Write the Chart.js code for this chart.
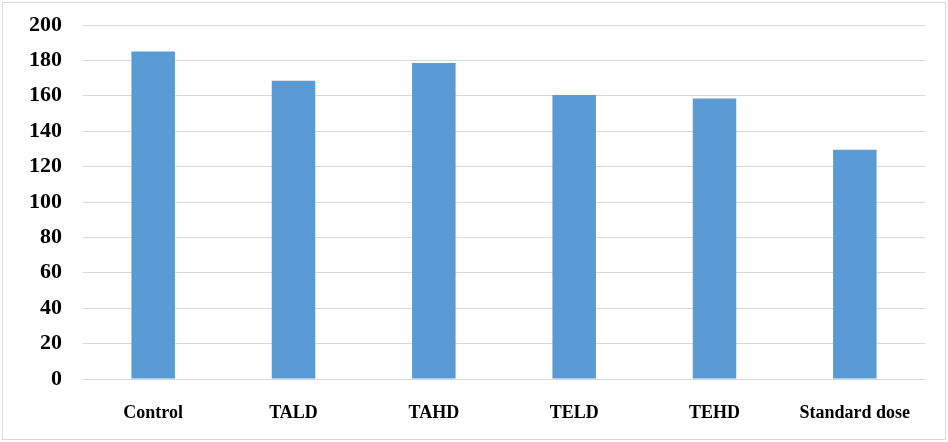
<!DOCTYPE html>
<html>
<head>
<meta charset="utf-8">
<script src="https://cdn.jsdelivr.net/npm/chart.js@4.4.0/dist/chart.umd.min.js"></script>
<style>
    body { margin: 0; background: #fff; }
    #wrap { position: relative; width: 948px; height: 442px; }
    #frame {
        position: absolute; left: 2px; top: 2px; width: 942px; height: 436px;
        border: 1px solid #d9d9d9; pointer-events: none;
    }
</style>
</head>
<body>
<div id="wrap">
    <canvas id="barChart" width="948" height="442"></canvas>
    <div id="frame"></div>
</div>
<script>
const groups = ["Control", "TALD", "TAHD", "TELD", "TEHD", "Standard dose"];
const values = [185, 168.5, 178.5, 160.5, 158.5, 129.5];
const yTicks = [0, 20, 40, 60, 80, 100, 120, 140, 160, 180, 200];

const barColor = "#5B9BD5";
const gridColor = "#d9d9d9";
const serif = "'Liberation Serif', 'Times New Roman', serif";

new Chart(document.getElementById("barChart"), {
    type: "bar",
    data: {
        labels: groups,
        datasets: [{
            data: values,
            backgroundColor: barColor,
            borderWidth: 0,
            categoryPercentage: 1,
            barPercentage: 0.31
        }]
    },
    options: {
        responsive: false,
        animation: false,
        layout: {
            padding: { left: 0, right: 23, top: 25, bottom: 0 }
        },
        scales: {
            x: {
                grid: { display: false },
                border: { display: false },
                ticks: {
                    color: "#000",
                    padding: 16,
                    font: { family: serif, size: 18, weight: "bold" }
                },
                afterFit(scale) { scale.height = 63; }
            },
            y: {
                min: 0,
                max: 200,
                afterBuildTicks(scale) {
                    scale.ticks = yTicks.map(v => ({ value: v }));
                },
                grid: { color: gridColor, lineWidth: 1, drawTicks: false },
                border: { display: false },
                ticks: {
                    color: "#000",
                    padding: 21,
                    font: { family: serif, size: 22, weight: "bold" }
                },
                afterFit(scale) {
                    scale.width = 83;
                    scale.paddingTop = 0;
                    scale.paddingBottom = 0;
                }
            }
        },
        plugins: {
            legend: { display: false },
            tooltip: { enabled: false }
        }
    }
});
</script>
</body>
</html>
